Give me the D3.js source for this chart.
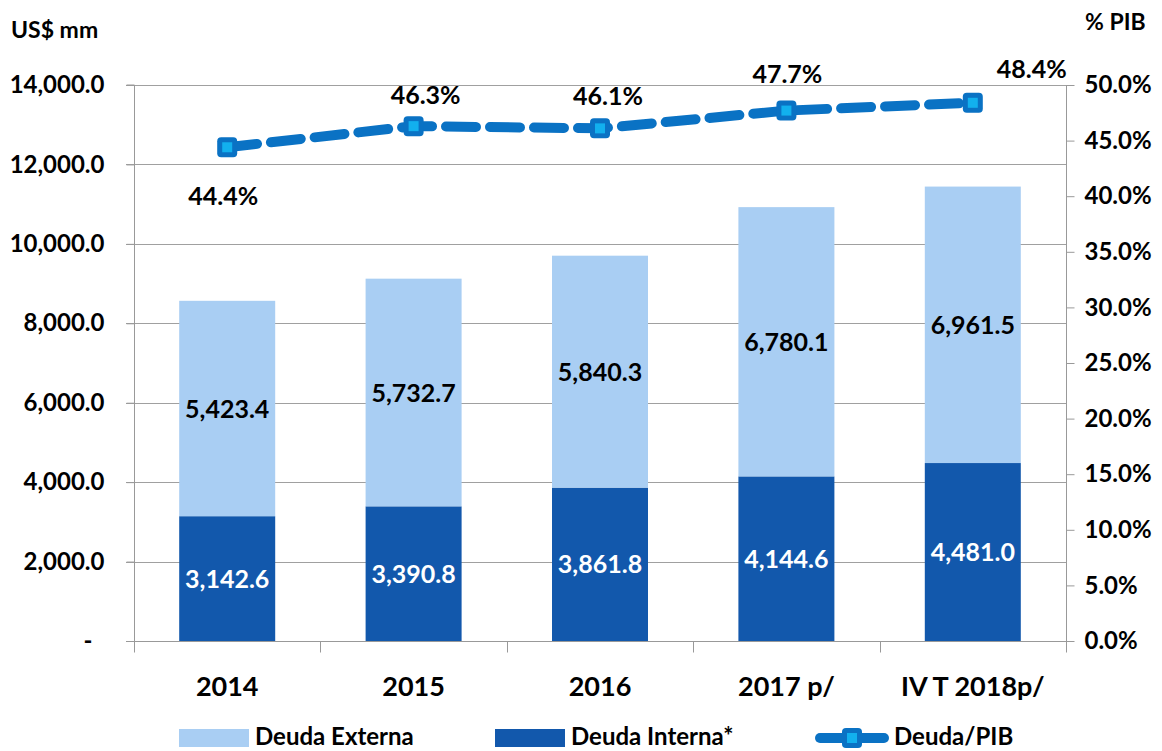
<!DOCTYPE html>
<html><head><meta charset="utf-8">
<script src="https://cdn.jsdelivr.net/npm/d3@7/dist/d3.min.js"></script>
<style>
body{margin:0;background:#fff;}
text{font-family:Lato,"Open Sans",sans-serif;font-weight:700;}
</style></head>
<body><svg id="c" width="1162" height="751"></svg>
<script>
const categories = ["2014","2015","2016","2017 p/","IV T 2018p/"];
const deudaInterna = [3142.6, 3390.8, 3861.8, 4144.6, 4481.0];
const deudaExterna = [5423.4, 5732.7, 5840.3, 6780.1, 6961.5];
const deudaPIB = [44.4, 46.3, 46.1, 47.7, 48.4];
const leftTicks = [0,2000,4000,6000,8000,10000,12000,14000];
const rightTicks = [0,5,10,15,20,25,30,35,40,45,50];

const cLight = "#A9CEF3", cDark = "#1258AC", cLine = "#0A72C4", cMarker = "#12B0EE";
const svg = d3.select("#c");
const L = 134, R = 1066, T = 85, B = 641;
const x = d3.scaleBand().domain(categories).range([L,R]).paddingInner(0.485).paddingOuter(0.2425);
const y = d3.scaleLinear().domain([0,14000]).range([B,T]);
const y2 = d3.scaleLinear().domain([0,50]).range([B,T]);
const fmt = d3.format(",.1f");

// gridlines
svg.append("g").selectAll("line").data(leftTicks.slice(1)).join("line")
  .attr("x1",L-8).attr("x2",R).attr("y1",d=>Math.round(y(d))+0.5).attr("y2",d=>Math.round(y(d))+0.5)
  .attr("stroke","#A0A0A0").attr("stroke-width",1);

// left axis
const gl = svg.append("g").attr("transform",`translate(${L+0.5},0)`)
  .call(d3.axisLeft(y).tickValues(leftTicks).tickSize(8).tickPadding(22)
    .tickFormat(d=>d===0?"-":fmt(d)));
gl.select(".domain").attr("stroke","#999").attr("d",`M-8,${T}H0V${B}`);
gl.selectAll(".tick line").attr("stroke","#999");
gl.selectAll(".tick text").attr("font-size",24).attr("fill","#000").attr("font-family","Lato").attr("font-weight",700)
  .attr("dx",d=>d===0?-12:0);

// right axis
const gr = svg.append("g").attr("transform",`translate(${R+0.5},0)`)
  .call(d3.axisRight(y2).tickValues(rightTicks).tickSize(8).tickPadding(10)
    .tickFormat(d=>d3.format(".1f")(d)+"%"));
gr.select(".domain").attr("stroke","#999").attr("d",`M0,${T}V${B}`);
gr.selectAll(".tick line").attr("stroke","#999");
gr.selectAll(".tick text").attr("font-size",24).attr("fill","#000").attr("font-family","Lato").attr("font-weight",700);

// bars
const bw = x.bandwidth();
svg.append("g").selectAll("rect").data(categories).join("rect")
  .attr("x",d=>x(d)).attr("width",bw)
  .attr("y",(d,i)=>y(deudaInterna[i])).attr("height",(d,i)=>B-y(deudaInterna[i]))
  .attr("fill",cDark);
svg.append("g").selectAll("rect").data(categories).join("rect")
  .attr("x",d=>x(d)).attr("width",bw)
  .attr("y",(d,i)=>y(deudaInterna[i]+deudaExterna[i])).attr("height",(d,i)=>y(deudaInterna[i])-y(deudaInterna[i]+deudaExterna[i]))
  .attr("fill",cLight);

// bottom axis
const gb = svg.append("g").attr("transform",`translate(0,${B+0.5})`);
gb.append("line").attr("x1",L-8).attr("x2",R+8).attr("stroke","#999");
gb.selectAll(".bt").data(d3.range(categories.length+1)).join("line")
  .attr("x1",i=>Math.round(L+i*x.step())+0.5).attr("x2",i=>Math.round(L+i*x.step())+0.5)
  .attr("y1",0).attr("y2",11).attr("stroke","#999");
gb.selectAll("text").data(categories).join("text")
  .attr("x",d=>x(d)+bw/2).attr("y",54).attr("text-anchor","middle")
  .attr("font-size",27).attr("fill","#000").text(d=>d);

// bar labels
svg.append("g").selectAll("text").data(categories).join("text")
  .attr("x",d=>x(d)+bw/2).attr("y",(d,i)=>(y(deudaInterna[i])+B)/2+9)
  .attr("text-anchor","middle").attr("font-size",25).attr("fill","#fff")
  .text((d,i)=>fmt(deudaInterna[i]));
svg.append("g").selectAll("text").data(categories).join("text")
  .attr("x",d=>x(d)+bw/2).attr("y",(d,i)=>(y(deudaInterna[i])+y(deudaInterna[i]+deudaExterna[i]))/2+9)
  .attr("text-anchor","middle").attr("font-size",25).attr("fill","#000")
  .text((d,i)=>fmt(deudaExterna[i]));

// line
const px = d=>x(d)+bw/2;
const line = d3.line().x((d,i)=>px(categories[i])).y(d=>y2(d));
svg.append("path").datum(deudaPIB).attr("d",line).attr("fill","none")
  .attr("stroke",cLine).attr("stroke-width",10).attr("stroke-dasharray","30,14").attr("stroke-linecap","round");
function marker(g,cx,cy){
  g.append("rect").attr("x",cx-10).attr("y",cy-10).attr("width",20).attr("height",20).attr("rx",4)
    .attr("fill",cLine);
  g.append("rect").attr("x",cx-5).attr("y",cy-5).attr("width",10).attr("height",10).attr("fill",cMarker);
}
const gm = svg.append("g");
deudaPIB.forEach((v,i)=>marker(gm,px(categories[i]),y2(v)));

// line labels (layout offsets)
const lblOff = [[-4,58],[12,-22],[8,-23],[1,-28],[59,-25]];
svg.append("g").selectAll("text").data(deudaPIB).join("text")
  .attr("x",(d,i)=>px(categories[i])+lblOff[i][0]).attr("y",(d,i)=>y2(d)+lblOff[i][1])
  .attr("text-anchor","middle").attr("font-size",25).attr("fill","#000")
  .text(d=>d3.format(".1f")(d)+"%");

// axis titles
svg.append("text").attr("x",11).attr("y",38).attr("font-size",23).attr("fill","#000").text("US$ mm");
svg.append("text").attr("x",1085).attr("y",30).attr("font-size",23).attr("fill","#000").text("% PIB");

// legend
const lg = svg.append("g");
lg.append("rect").attr("x",179).attr("y",729).attr("width",70).attr("height",18).attr("fill",cLight);
lg.append("text").attr("x",255).attr("y",745).attr("font-size",24).attr("fill","#000").text("Deuda Externa");
lg.append("rect").attr("x",495).attr("y",729).attr("width",70).attr("height",18).attr("fill",cDark);
lg.append("text").attr("x",571).attr("y",745).attr("font-size",24).attr("fill","#000").text("Deuda Interna*");
lg.append("line").attr("x1",820).attr("x2",884).attr("y1",738).attr("y2",738)
  .attr("stroke",cLine).attr("stroke-width",10).attr("stroke-linecap","round");
marker(lg,852,738);
lg.append("text").attr("x",894).attr("y",745).attr("font-size",24).attr("fill","#000").text("Deuda/PIB");
</script></body></html>
